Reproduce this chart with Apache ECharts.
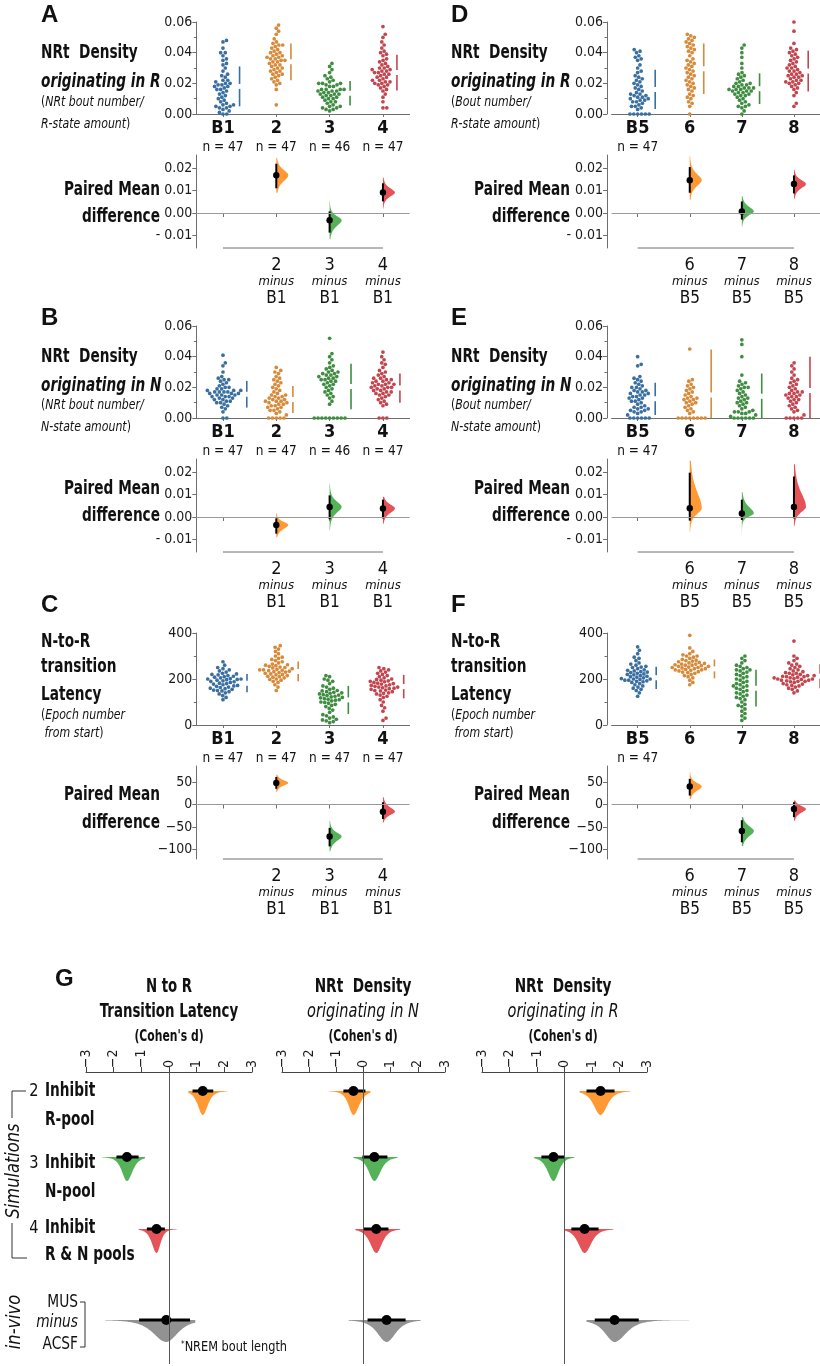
<!DOCTYPE html>
<html><head><meta charset="utf-8"><title>NRt estimation plots</title>
<script src="https://cdn.jsdelivr.net/npm/echarts@6.0.0/dist/echarts.min.js"></script>
<style>html,body{margin:0;padding:0;background:#fff;}#chart{width:820px;height:1366px;}</style>
</head><body><div id="chart"></div>
<script>
// ================= DATA =================
const catsLeft = ['B1', '2', '3', '4'];
const catsRight = ['B5', '6', '7', '8'];
const nLeftAB = [47, 47, 46, 47];
const nLeftC = [47, 47, 47, 47];
const nRight = [47];

// ---- Panel A : NRt density originating in R ----
const swarmA = [
  [0.000,0.000,0.001,0.002,0.003,0.004,0.004,0.005,0.005,0.006,0.006,0.007,0.008,0.009,0.010,0.011,0.012,0.013,0.014,0.015,0.016,0.016,0.017,0.018,0.018,0.019,0.019,0.020,0.020,0.021,0.022,0.022,0.024,0.025,0.026,0.028,0.030,0.032,0.033,0.035,0.036,0.038,0.040,0.040,0.043,0.047,0.048],
  [0.006,0.016,0.019,0.020,0.021,0.022,0.023,0.024,0.025,0.026,0.026,0.027,0.028,0.028,0.029,0.030,0.030,0.031,0.032,0.032,0.033,0.034,0.034,0.035,0.035,0.036,0.036,0.037,0.037,0.038,0.038,0.039,0.040,0.040,0.041,0.042,0.043,0.044,0.045,0.045,0.046,0.047,0.049,0.052,0.054,0.056,0.058],
  [0.002,0.003,0.003,0.004,0.004,0.005,0.005,0.006,0.007,0.008,0.008,0.009,0.010,0.010,0.011,0.011,0.012,0.012,0.013,0.013,0.013,0.014,0.014,0.015,0.015,0.015,0.016,0.016,0.016,0.016,0.018,0.018,0.019,0.019,0.020,0.020,0.020,0.021,0.022,0.023,0.024,0.025,0.027,0.029,0.031,0.033],
  [0.004,0.004,0.008,0.011,0.013,0.015,0.016,0.017,0.018,0.019,0.019,0.020,0.020,0.021,0.021,0.022,0.022,0.023,0.024,0.024,0.025,0.026,0.026,0.027,0.027,0.028,0.028,0.029,0.029,0.030,0.030,0.031,0.032,0.033,0.034,0.035,0.036,0.038,0.039,0.040,0.041,0.043,0.045,0.047,0.050,0.052,0.057]
];
const meanSdA = [[0.018,0.013],[0.034,0.012],[0.0135,0.008],[0.027,0.0117]];
// [mean diff, CI low, CI high, dist min, dist max]
const diffA = [[0.0168,0.011,0.0219,0.009,0.0245],[-0.0032,-0.0087,0.0007,-0.0115,0.0055],[0.0091,0.0052,0.0132,0.002,0.0158]];

// ---- Panel B : NRt density originating in N ----
const swarmB = [
  [0.000,0.000,0.004,0.006,0.007,0.008,0.009,0.010,0.010,0.011,0.011,0.012,0.012,0.013,0.013,0.014,0.014,0.014,0.015,0.015,0.015,0.016,0.016,0.016,0.017,0.017,0.017,0.017,0.018,0.018,0.018,0.019,0.019,0.020,0.020,0.021,0.022,0.023,0.024,0.025,0.025,0.026,0.027,0.030,0.034,0.036,0.041],
  [0.000,0.000,0.000,0.000,0.000,0.002,0.003,0.004,0.005,0.005,0.006,0.007,0.007,0.008,0.008,0.009,0.009,0.010,0.010,0.011,0.011,0.011,0.012,0.012,0.013,0.013,0.014,0.014,0.015,0.015,0.016,0.017,0.018,0.019,0.020,0.021,0.022,0.023,0.024,0.025,0.026,0.027,0.029,0.030,0.031,0.033],
  [0.000,0.000,0.000,0.000,0.000,0.000,0.000,0.000,0.000,0.009,0.011,0.013,0.014,0.015,0.016,0.017,0.018,0.019,0.020,0.021,0.022,0.022,0.023,0.024,0.024,0.025,0.025,0.026,0.026,0.027,0.027,0.028,0.028,0.029,0.029,0.030,0.030,0.031,0.032,0.033,0.034,0.036,0.038,0.040,0.042,0.052],
  [0.000,0.000,0.000,0.008,0.009,0.010,0.011,0.012,0.013,0.014,0.015,0.015,0.016,0.016,0.017,0.017,0.018,0.018,0.019,0.019,0.020,0.020,0.020,0.021,0.021,0.022,0.022,0.022,0.023,0.023,0.024,0.024,0.025,0.025,0.026,0.026,0.027,0.028,0.029,0.030,0.031,0.033,0.035,0.036,0.038,0.040,0.043]
];
const meanSdB = [[0.0155,0.0087],[0.012,0.0088],[0.0205,0.0148],[0.0195,0.0095]];
const diffB = [[-0.0035,-0.0074,-0.0006,-0.009,0.0018],[0.0045,-0.001,0.0096,-0.006,0.0148],[0.0038,-0.0006,0.0077,-0.003,0.009]];

// ---- Panel C : N-to-R transition latency ----
const swarmC = [
  [110,120,128,135,140,145,148,150,152,155,158,160,163,165,168,170,172,175,178,180,182,185,188,190,192,195,197,198,200,200,202,205,208,210,212,215,218,220,222,225,230,235,240,245,250,260,275],
  [150,165,175,185,190,195,198,200,205,208,210,212,215,218,220,222,225,228,230,232,234,236,238,240,240,242,245,248,250,252,255,258,260,262,265,270,275,280,285,290,295,300,310,320,330,338,345],
  [10,15,18,22,25,30,35,40,45,55,65,72,80,85,90,95,98,100,105,108,110,112,115,118,120,122,125,128,130,132,135,138,140,142,145,148,150,155,160,165,170,180,190,195,200,210,215],
  [20,30,60,75,85,100,110,120,125,130,135,138,140,145,148,150,152,155,158,160,162,165,165,168,170,172,175,178,180,182,185,188,190,192,195,198,200,205,210,215,220,225,230,235,240,245,250]
];
const meanSdC = [[182,40],[233,43],[109,61],[167,51]];
const diffC = [[48,35,61,27,66],[-71,-93,-52,-104,-36],[-16,-32,5,-40,16]];

// ---- Panel D : NRt density originating in R (B5,6,7,8) ----
const swarmD = [
  [0.000,0.000,0.000,0.000,0.000,0.000,0.003,0.004,0.005,0.005,0.006,0.007,0.008,0.008,0.009,0.009,0.010,0.010,0.011,0.011,0.012,0.012,0.013,0.013,0.014,0.015,0.016,0.017,0.018,0.019,0.020,0.021,0.022,0.023,0.024,0.025,0.027,0.028,0.030,0.032,0.035,0.036,0.037,0.038,0.040,0.041,0.042],
  [0.000,0.005,0.007,0.008,0.010,0.011,0.012,0.013,0.015,0.016,0.017,0.018,0.019,0.020,0.021,0.022,0.023,0.024,0.025,0.026,0.027,0.028,0.029,0.030,0.031,0.032,0.033,0.034,0.035,0.036,0.038,0.040,0.041,0.042,0.043,0.044,0.045,0.046,0.047,0.048,0.049,0.050,0.051,0.052],
  [0.000,0.002,0.004,0.005,0.005,0.006,0.007,0.008,0.009,0.010,0.011,0.012,0.012,0.013,0.013,0.014,0.014,0.015,0.015,0.015,0.016,0.016,0.016,0.017,0.017,0.017,0.018,0.018,0.019,0.019,0.020,0.020,0.021,0.022,0.023,0.024,0.025,0.026,0.027,0.030,0.033,0.037,0.040,0.043,0.045],
  [0.005,0.007,0.012,0.014,0.016,0.017,0.018,0.019,0.020,0.020,0.021,0.021,0.022,0.022,0.023,0.024,0.024,0.025,0.025,0.026,0.026,0.027,0.028,0.028,0.029,0.030,0.030,0.031,0.032,0.033,0.034,0.035,0.036,0.037,0.038,0.039,0.040,0.041,0.042,0.043,0.046,0.054,0.060]
];
const meanSdD = [[0.016,0.0128],[0.0295,0.0165],[0.0165,0.010],[0.028,0.0133]];
const diffD = [[0.0146,0.009,0.0204,0.0058,0.0254],[0.0007,-0.0029,0.0051,-0.006,0.0075],[0.0129,0.0087,0.0167,0.0062,0.0192]];

// ---- Panel E : NRt density originating in N (B5,6,7,8) ----
const swarmE = [
  [0.000,0.000,0.000,0.000,0.000,0.000,0.002,0.003,0.004,0.004,0.005,0.005,0.006,0.006,0.007,0.007,0.008,0.009,0.010,0.011,0.011,0.012,0.013,0.013,0.014,0.014,0.015,0.015,0.016,0.016,0.017,0.017,0.018,0.018,0.019,0.020,0.020,0.021,0.022,0.023,0.024,0.025,0.026,0.027,0.034,0.035,0.040],
  [0.000,0.000,0.000,0.000,0.000,0.000,0.000,0.000,0.003,0.004,0.005,0.006,0.007,0.008,0.009,0.010,0.010,0.011,0.012,0.012,0.013,0.013,0.014,0.015,0.016,0.017,0.018,0.019,0.020,0.021,0.022,0.024,0.025,0.045],
  [0.000,0.000,0.000,0.000,0.000,0.000,0.001,0.002,0.003,0.003,0.004,0.004,0.004,0.005,0.006,0.007,0.008,0.009,0.010,0.010,0.011,0.012,0.013,0.013,0.014,0.015,0.016,0.017,0.018,0.019,0.020,0.020,0.021,0.022,0.023,0.024,0.028,0.040,0.048,0.051],
  [0.000,0.000,0.000,0.000,0.000,0.002,0.004,0.005,0.006,0.007,0.008,0.009,0.010,0.011,0.012,0.012,0.013,0.014,0.014,0.015,0.015,0.016,0.016,0.017,0.017,0.018,0.019,0.020,0.021,0.022,0.023,0.024,0.025,0.026,0.028,0.030,0.032,0.034,0.036]
];
const meanSdE = [[0.0125,0.0105],[0.015,0.0296],[0.0142,0.0148],[0.018,0.022]];
const diffE = [[0.0039,-0.0016,0.0197,-0.0064,0.025],[0.0016,-0.0013,0.0077,-0.0078,0.011],[0.0045,-0.0006,0.018,-0.004,0.0235]];

// ---- Panel F : N-to-R transition latency (B5,6,7,8) ----
const swarmF = [
  [125,140,150,155,160,165,170,175,180,185,188,190,192,195,195,198,200,200,202,205,208,210,212,215,218,220,222,225,228,230,232,235,238,240,245,250,252,255,260,265,270,280,290,295,310,325,340],
  [175,185,195,205,210,215,220,225,228,230,232,235,238,240,240,242,245,245,248,250,250,252,255,255,258,260,260,262,265,265,268,270,272,275,278,280,282,285,290,295,300,300,305,310,320,335,390],
  [20,30,40,50,60,70,80,85,90,100,110,115,120,125,130,135,140,145,150,155,160,165,170,170,175,180,185,190,195,200,205,210,215,220,225,230,235,240,240,245,250,255,260,270,280,290,300],
  [140,148,155,160,165,170,172,175,178,180,185,188,190,190,192,195,195,198,200,200,202,205,205,208,210,210,212,215,215,218,220,225,225,228,232,235,240,245,250,255,260,265,270,280,290,300,365]
];
const meanSdF = [[205,48],[244,41],[160,80],[212,52]];
const diffF = [[40,20,57,12,72],[-59,-84,-35,-92,-28],[-10,-28,5,-36,9]];

// ---- Panel G : Cohen's d  (rows: 2 Inhibit R-pool, 3 Inhibit N-pool, 4 Inhibit R&N, in-vivo MUS minus ACSF) ----
const gLatency = [[1.22,0.85,1.6,0.7,2.1],[-1.52,-1.9,-1.1,-2.4,-0.87],[-0.45,-0.8,-0.15,-1.1,0.3],[-0.1,-1.08,0.76,-2.3,0.95]];
const gDensN   = [[-0.37,-0.74,0.07,-1.3,0.25],[0.4,-0.04,0.88,-0.37,1.25],[0.47,0.0,0.92,-0.3,1.35],[0.85,0.15,1.55,-0.55,2.1]];
const gDensR   = [[1.31,0.8,1.82,0.55,2.4],[-0.4,-0.84,0.0,-1.1,0.36],[0.73,0.25,1.24,0.0,1.78],[1.82,1.1,2.7,0.8,5.5]];

// ================= STYLE / LAYOUT =================
const FONT = "'Liberation Sans Narrow','DejaVu Sans Condensed','Roboto',sans-serif";
const FONT_LETTER = "'Liberation Sans',Arial,sans-serif";
const DOT = ['#3a6fa2','#d68a3a','#3f8d41','#c2464f'];
const VIO = ['#ff9429','#4cae4f','#e34a4f','#8c8c8c'];
const AX = '#6f6f6f';

const COLS = [
  {left:196.3, width:213.3, axisX:197, textX:41, pairedX:160},
  {left:611.6, width:210.8, axisX:607, textX:451, pairedX:570}
];
const ROWS = [0, 304, 611];
const SW_TOP = 22, SW_H = 92, DF_TOP = 155, DF_H = 93;
const SCALE = {
  dens: {s:[0,0.06], iv:0.02, d:[-0.01555,0.02578], dTicks:[-0.01,0,0.01,0.02],
         fs: v => v.toFixed(2), fd: v => v < 0 ? '- ' + Math.abs(v).toFixed(2) : v.toFixed(2)},
  lat:  {s:[0,400], iv:200, d:[-121.1,85.6], dTicks:[-100,-50,0,50],
         fs: v => String(v), fd: v => v < 0 ? '\u2212' + Math.abs(v) : String(v)}
};
const PANELS = [
  {L:'A', col:0, row:0, cats:catsLeft,  n:nLeftAB, sw:swarmA, msd:meanSdA, diff:diffA, k:'dens'},
  {L:'B', col:0, row:1, cats:catsLeft,  n:nLeftAB, sw:swarmB, msd:meanSdB, diff:diffB, k:'dens'},
  {L:'C', col:0, row:2, cats:catsLeft,  n:nLeftC,  sw:swarmC, msd:meanSdC, diff:diffC, k:'lat'},
  {L:'D', col:1, row:0, cats:catsRight, n:nRight,  sw:swarmD, msd:meanSdD, diff:diffD, k:'dens'},
  {L:'E', col:1, row:1, cats:catsRight, n:nRight,  sw:swarmE, msd:meanSdE, diff:diffE, k:'dens'},
  {L:'F', col:1, row:2, cats:catsRight, n:nRight,  sw:swarmF, msd:meanSdF, diff:diffF, k:'lat'}
];

// beeswarm: pixel x-offsets computed from values and the axis pixel scale
function beeswarm(vals, k, d) {
  const order = vals.map((v, i) => i).sort((a, b) => vals[a] - vals[b]);
  const placed = [], off = new Array(vals.length);
  for (const i of order) {
    const y = vals[i] * k;
    const near = placed.filter(p => Math.abs(p.y - y) < d);
    const cands = [0];
    near.forEach(p => { const dx = Math.sqrt(d * d - (p.y - y) * (p.y - y)); cands.push(p.x + dx + 1e-6, p.x - dx - 1e-6); });
    cands.sort((a, b) => Math.abs(a) - Math.abs(b) || b - a);
    let x = 0;
    for (const c of cands) { if (near.every(p => (p.x - c) ** 2 + (p.y - y) ** 2 >= d * d - 1e-4)) { x = c; break; } }
    placed.push({x, y}); off[i] = x;
  }
  return off;
}
// half-violin profile (heavy-tailed split shape from CI)
function prof(v, m, lo, hi) {
  const s = v < m ? Math.max((m - lo) / 1.96, 1e-9) : Math.max((hi - m) / 1.96, 1e-9);
  const z = (v - m) / s;
  return Math.pow(1 + z * z / 3, -2);
}

const grid = [], xAxis = [], yAxis = [], series = [], graphic = [];
const axisLineS = {lineStyle:{color:AX, width:1}};
const labelBase = {color:'#1a1a1a', fontFamily:FONT, fontSize:14};

PANELS.forEach((P) => {
  const C = COLS[P.col], dy = ROWS[P.row], S = SCALE[P.k];
  const gs = grid.length, gd = gs + 1;
  grid.push({left:C.left, width:C.width, top:SW_TOP + dy, height:SW_H});
  grid.push({left:C.left, width:C.width, top:DF_TOP + dy, height:DF_H});
  const yOff = Math.max(0, C.left - C.axisX);
  // swarm axes
  xAxis.push({type:'category', gridIndex:gs, data:P.cats, boundaryGap:true,
    axisLine:axisLineS, axisTick:{show:true, alignWithLabel:true, length:3, lineStyle:{color:AX}},
    axisLabel:{interval:0, margin:5, formatter:(v, i) => i < P.n.length ? '{b|' + v + '}\n{n|n = ' + P.n[i] + '}' : '{b|' + v + '}',
      rich:{b:{fontFamily:FONT, fontWeight:'bold', fontSize:18, lineHeight:19, color:'#111'},
            n:{fontFamily:FONT, fontSize:13.5, lineHeight:18, color:'#111'}}},
    splitLine:{show:false}});
  yAxis.push({type:'value', gridIndex:gs, min:S.s[0], max:S.s[1], interval:S.iv, offset:yOff,
    axisLine:{show:true, lineStyle:{color:AX}}, axisTick:{show:true, length:4, lineStyle:{color:AX}},
    minorTick:{show:true, splitNumber:2, length:2.5, lineStyle:{color:AX}},
    axisLabel:Object.assign({margin:4, formatter:S.fs}, labelBase), splitLine:{show:false}, minorSplitLine:{show:false}});
  // diff axes
  xAxis.push({type:'category', gridIndex:gd, data:P.cats, boundaryGap:true,
    axisLine:{show:false}, axisTick:{show:true, alignWithLabel:true, length:4, lineStyle:{color:AX}},
    axisLabel:{interval:0, margin:9, formatter:(v, i) => i === 0 ? '' : '{c|' + v + '}\n{m|minus}\n{c2|' + P.cats[0] + '}',
      rich:{c:{fontFamily:FONT, fontSize:18, lineHeight:17, color:'#111'},
            m:{fontFamily:FONT, fontStyle:'italic', fontSize:13, lineHeight:16, color:'#111'},
            c2:{fontFamily:FONT, fontSize:17, lineHeight:18, color:'#111'}}},
    splitLine:{show:false}});
  yAxis.push({type:'value', gridIndex:gd, min:S.d[0], max:S.d[1], offset:yOff,
    axisLine:{show:true, lineStyle:{color:AX}}, axisTick:{show:true, length:4, customValues:S.dTicks, lineStyle:{color:AX}},
    axisLabel:Object.assign({margin:4, formatter:S.fd, customValues:S.dTicks}, labelBase), splitLine:{show:false}});

  // swarm points
  const k = SW_H / (S.s[1] - S.s[0]);
  const pts = [], gaps = [];
  P.sw.forEach((vals, gi) => {
    const off = beeswarm(vals, k, 3.85);
    vals.forEach((v, j) => pts.push([gi, v, off[j], gi]));
    const maxOff = Math.max.apply(null, off);
    gaps.push([gi, P.msd[gi][0], P.msd[gi][1], gi, Math.max(14, maxOff + 6)]);
  });
  series.push({type:'custom', xAxisIndex:gs, yAxisIndex:gs, data:pts, silent:true, clip:false,
    renderItem:(params, api) => {
      const p = api.coord([api.value(0), api.value(1)]);
      return {type:'circle', shape:{cx:p[0] + api.value(2), cy:p[1], r:1.85}, style:{fill:DOT[api.value(3)]}};
    }});
  // mean +/- sd gapped lines
  series.push({type:'custom', xAxisIndex:gs, yAxisIndex:gs, data:gaps, silent:true, clip:false,
    renderItem:(params, api) => {
      const c = api.value(0), m = api.value(1), sd = api.value(2), col = DOT[api.value(3)];
      const top = Math.min(m + sd, S.s[1]), bot = Math.max(m - sd, S.s[0]);
      const pT = api.coord([c, top]), pM = api.coord([c, m]), pB = api.coord([c, bot]);
      const x = pM[0] + api.value(4);
      return {type:'group', children:[
        {type:'line', shape:{x1:x, y1:pT[1], x2:x, y2:pM[1] - 2.5}, style:{stroke:col, lineWidth:1.6}},
        {type:'line', shape:{x1:x, y1:pM[1] + 2.5, x2:x, y2:pB[1]}, style:{stroke:col, lineWidth:1.6}}
      ]};
    }});
  // diff spine + zero line
  series.push({type:'line', xAxisIndex:gd, yAxisIndex:gd, data:[[0, S.d[0]], [P.cats.length - 1, S.d[0]]],
    symbol:'none', silent:true, lineStyle:{color:AX, width:1}, clip:false,
    markLine:{silent:true, symbol:'none', label:{show:false}, lineStyle:{color:'#9a9a9a', width:1, type:'solid'}, data:[{yAxis:0}]}});
  // diff half-violins
  series.push({type:'custom', xAxisIndex:gd, yAxisIndex:gd, silent:true, clip:false,
    data:P.diff.map((d, i) => [i + 1, d[0], d[1], d[2], d[3], d[4], i]),
    renderItem:(params, api) => {
      const c = api.value(0), m = api.value(1), lo = api.value(2), hi = api.value(3), a = api.value(4), b = api.value(5);
      const col = VIO[api.value(6)], W = 12, N = 60;
      const base = api.coord([c, m]);
      const poly = [[base[0], api.coord([c, a])[1]]];
      for (let j = 0; j <= N; j++) {
        const v = a + (b - a) * j / N; const p = api.coord([c, v]);
        poly.push([p[0] + W * prof(v, m, lo, hi), p[1]]);
      }
      poly.push([base[0], api.coord([c, b])[1]]);
      const pl = api.coord([c, lo]), ph = api.coord([c, hi]);
      return {type:'group', children:[
        {type:'polygon', shape:{points:poly}, style:{fill:col, opacity:0.95}},
        {type:'line', shape:{x1:base[0], y1:pl[1], x2:base[0], y2:ph[1]}, style:{stroke:'#000', lineWidth:2}},
        {type:'circle', shape:{cx:base[0], cy:base[1], r:3.2}, style:{fill:'#000'}}
      ]};
    }});
});

// ---------- Panel G ----------
const G_COLS = [{left:86, width:166, data:gLatency}, {left:282, width:163, data:gDensN}, {left:482, width:165, data:gDensR}];
const G_TOP = 1072, G_H = 292;
const G_ROWPX = [19, 85, 157, 248];
const G_DEPTH = [24, 24, 24, 22];
G_COLS.forEach((GC) => {
  const gi = grid.length;
  grid.push({left:GC.left, width:GC.width, top:G_TOP, height:G_H});
  xAxis.push({type:'value', gridIndex:gi, position:'top', min:-3, max:3, interval:1,
    axisLine:{show:true, onZero:false, lineStyle:{color:'#444'}}, axisTick:{show:true, length:5, lineStyle:{color:'#444'}},
    axisLabel:{rotate:-90, margin:4, color:'#1a1a1a', fontFamily:FONT, fontSize:14,
      formatter: v => v < 0 ? '\u2212' + Math.abs(v) : String(v)}, splitLine:{show:false}});
  yAxis.push({type:'value', gridIndex:gi, min:0, max:G_H, inverse:true, show:false});
  series.push({type:'custom', xAxisIndex:gi, yAxisIndex:gi, silent:true, clip:false,
    data:GC.data.map((d, r) => [r, d[0], d[1], d[2], d[3], d[4]]),
    markLine:{silent:true, symbol:'none', label:{show:false}, lineStyle:{color:'#555', width:1, type:'solid'}, data:[{xAxis:0}]},
    renderItem:(params, api) => {
      const r = api.value(0), m = api.value(1), lo = api.value(2), hi = api.value(3), a = api.value(4), b = api.value(5);
      const yv = G_ROWPX[r], D = G_DEPTH[r], N = 80;
      const base = api.coord([m, yv]);
      const poly = [[api.coord([a, yv])[0], base[1]]];
      for (let j = 0; j <= N; j++) {
        const v = a + (b - a) * j / N; const p = api.coord([v, yv]);
        poly.push([p[0], base[1] + D * prof(v, m, lo, hi)]);
      }
      poly.push([api.coord([b, yv])[0], base[1]]);
      const pl = api.coord([lo, yv]), ph = api.coord([hi, yv]);
      return {type:'group', children:[
        {type:'polygon', shape:{points:poly}, style:{fill:VIO[r], opacity:0.95}},
        {type:'line', shape:{x1:pl[0], y1:base[1], x2:ph[0], y2:base[1]}, style:{stroke:'#000', lineWidth:3}},
        {type:'circle', shape:{cx:base[0], cy:base[1], r:5}, style:{fill:'#000'}}
      ]};
    }});
});

// ================= TEXT =================
function txt(text, x, y, o) {
  o = o || {};
  graphic.push({type:'text', x:x, y:y, rotation:o.rot || 0, scaleX:o.sx || 1, silent:true, z:10,
    style:{text:text, fontSize:o.size || 19, fontWeight:o.w || 'normal', fontStyle:o.it ? 'italic' : 'normal',
      fontFamily:o.ff || FONT, fill:'#111', align:o.align || 'left', verticalAlign:'middle', rich:o.rich}});
}
const smallRich = {p:{fontFamily:FONT, fontSize:14, fill:'#111'}, i:{fontFamily:FONT, fontSize:14, fontStyle:'italic', fill:'#111'}};
const LETTER_Y = [15, 318, 605];
const TITLE_Y = [[53, 82, 102, 124], [357, 386, 405, 427]];
const PAIRED_Y = [[190, 217], [489, 516], [795, 823]];
const SXB = 0.8, SXS = 0.87;
PANELS.forEach(P => {
  const C = COLS[P.col];
  txt(P.L, C.textX, LETTER_Y[P.row], {size:24, w:'bold', ff:FONT_LETTER});
  if (P.k === 'dens') {
    const Y = TITLE_Y[P.row];
    const orig = P.row === 0 ? 'R' : 'N';
    txt('NRt  Density', C.textX, Y[0], {w:'bold', sx:SXB});
    txt('originating in ' + orig, C.textX, Y[1], {w:'bold', it:true, sx:SXB});
    txt('{p|(}{i|' + (P.col === 0 ? 'NRt bout number/' : 'Bout number/') + '}', C.textX, Y[2], {rich:smallRich, size:14, sx:SXS});
    txt('{i|' + orig + '-state amount}{p|)}', C.textX, Y[3], {rich:smallRich, size:14, sx:SXS});
  } else {
    txt('N-to-R', C.textX, 642, {w:'bold', sx:SXB});
    txt('transition', C.textX, 667, {w:'bold', sx:SXB});
    txt('Latency', C.textX, 695, {w:'bold', sx:SXB});
    txt('{p|(}{i|Epoch number}', C.textX, 715, {rich:smallRich, size:14, sx:SXS});
    txt('{i| from start}{p|)}', C.textX, 733, {rich:smallRich, size:14, sx:SXS});
  }
  txt('Paired Mean', C.pairedX, PAIRED_Y[P.row][0], {w:'bold', align:'right', sx:SXB});
  txt('difference', C.pairedX, PAIRED_Y[P.row][1], {w:'bold', align:'right', sx:SXB});
});
// Panel G titles
txt('G', 55, 979, {size:24, w:'bold', ff:FONT_LETTER});
const gTitleX = [169, 363, 563];
txt('N to R', gTitleX[0], 987, {w:'bold', align:'center', sx:0.78});
txt('Transition Latency', gTitleX[0], 1012, {w:'bold', align:'center', sx:0.78});
txt('NRt  Density', gTitleX[1], 987, {w:'bold', align:'center', sx:0.8});
txt('originating in N', gTitleX[1], 1012, {it:true, align:'center', sx:0.85});
txt('NRt  Density', gTitleX[2], 987, {w:'bold', align:'center', sx:0.8});
txt('originating in R', gTitleX[2], 1012, {it:true, align:'center', sx:0.85});
gTitleX.forEach(x => txt("(Cohen's d)", x, 1037, {w:'bold', size:15, align:'center', sx:0.8}));
// row labels
[['2', 1091, 'R-pool', 1120], ['3', 1163, 'N-pool', 1192], ['4', 1228, 'R & N pools', 1255]].forEach(r => {
  txt(r[0], 34, r[1], {size:18, align:'center', sx:0.9});
  txt('Inhibit', 45, r[1], {w:'bold', size:19, sx:SXB});
  txt(r[2], 45, r[3], {w:'bold', size:19, sx:SXB});
});
txt('Simulations', 14, 1171, {it:true, size:19, align:'center', rot:Math.PI / 2, sx:0.95});
txt('in-vivo', 15, 1322, {it:true, size:19, align:'center', rot:Math.PI / 2, sx:0.95});
txt('MUS', 78, 1303, {size:17, align:'right', sx:0.9});
txt('minus', 78, 1323, {size:17, it:true, align:'right', sx:0.9});
txt('ACSF', 78, 1345, {size:17, align:'right', sx:0.9});
graphic.push({type:'text', x:181, y:1347, scaleX:0.9, silent:true, style:{text:'{s|*}{t|NREM bout length}',
  verticalAlign:'middle', rich:{s:{fontFamily:FONT, fontSize:9, fill:'#111', verticalAlign:'top'}, t:{fontFamily:FONT, fontSize:14, fill:'#111'}}}});
// brackets
graphic.push({type:'polyline', silent:true, shape:{points:[[26,1091],[12,1091],[12,1118]]}, style:{stroke:'#333', lineWidth:1, fill:null}});
graphic.push({type:'polyline', silent:true, shape:{points:[[12,1223],[12,1258],[27,1258]]}, style:{stroke:'#333', lineWidth:1, fill:null}});
graphic.push({type:'polyline', silent:true, shape:{points:[[80,1302],[85,1302],[85,1347],[80,1347]]}, style:{stroke:'#333', lineWidth:1, fill:null}});

const chart = echarts.init(document.getElementById('chart'), null, {renderer:'canvas', width:820, height:1366});
chart.setOption({animation:false, backgroundColor:'#fff', grid:grid, xAxis:xAxis, yAxis:yAxis, series:series, graphic:graphic});
</script></body></html>
